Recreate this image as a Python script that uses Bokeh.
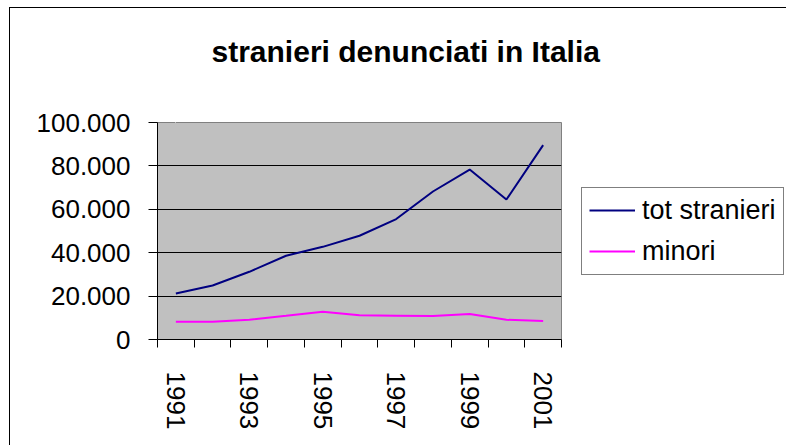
from bokeh.plotting import figure
from bokeh.models import FixedTicker, Legend, LegendItem, Range1d, LinearAxis
from bokeh.embed import file_html
from bokeh.resources import INLINE

# ---- data ----
years = [1991, 1992, 1993, 1994, 1995, 1996, 1997, 1998, 1999, 2000, 2001]
tot_stranieri = [21200, 24900, 31200, 38600, 42700, 47800, 55500, 68200, 78300, 64500, 89600]
minori = [8150, 8150, 9100, 10900, 12800, 11200, 11000, 10800, 11800, 9100, 8500]
y_ticks = [0, 20000, 40000, 60000, 80000, 100000]
y_tick_labels = ["0", "20.000", "40.000", "60.000", "80.000", "100.000"]
x_tick_labels = ["1991", "", "1993", "", "1995", "", "1997", "", "1999", "", "2001"]
series_names = ["tot stranieri", "minori"]
title_text = "stranieri denunciati in Italia"

FONT = "Liberation Sans"

p = figure(frame_width=404, frame_height=217,
           x_range=Range1d(years[0] - 0.5, years[-1] + 0.5),
           y_range=Range1d(y_ticks[0], y_ticks[-1]),
           output_backend="svg", toolbar_location=None,
           min_border_left=147, min_border_right=0,
           min_border_top=114, min_border_bottom=106)
p.styles = {"margin-left": "9px", "margin-top": "7px",
            "border-left": "1px solid black", "border-top": "1px solid black"}

xa = p.below[0]
ya = p.left[0]

p.title.text = title_text
p.title.align = "left"
p.title.offset = 54
p.title.vertical_align = "bottom"
p.title.standoff = 10
p.title.text_font = FONT
p.title.text_font_size = "30px"
p.title.text_font_style = "bold"
p.title.text_color = "black"

# invisible spacer axis between the title and the plot area
spacer = LinearAxis(ticker=FixedTicker(ticks=[years[0]]), major_tick_out=50, major_tick_in=0,
                    minor_tick_out=0, minor_tick_in=0, major_label_standoff=0,
                    major_label_overrides={years[0]: ""},
                    major_label_text_font_size="1px",
                    axis_line_color=None, major_tick_line_color="white",
                    minor_tick_line_color=None)
p.add_layout(spacer, "above")

p.background_fill_color = "#C0C0C0"
p.border_fill_color = "white"
p.outline_line_color = "#808080"
p.outline_line_width = 1

# x axis
xa.ticker = FixedTicker(ticks=years, minor_ticks=[y - 0.5 for y in years] + [years[-1] + 0.5])
xa.major_label_overrides = {y: lab for y, lab in zip(years, x_tick_labels)}
xa.major_tick_out = 0
xa.major_tick_in = 0
xa.minor_tick_out = 8
xa.minor_tick_in = 0
xa.minor_tick_line_color = "black"
xa.axis_line_color = "black"
xa.major_label_orientation = "vertical"
xa.major_label_standoff = 24
xa.major_label_text_font = FONT
xa.major_label_text_font_size = "26px"
xa.major_label_text_color = "black"

# y axis
ya.ticker = FixedTicker(ticks=y_ticks)
ya.major_label_overrides = {t: lab for t, lab in zip(y_ticks, y_tick_labels)}
ya.major_tick_out = 9
ya.major_tick_in = 0
ya.minor_tick_out = 0
ya.minor_tick_in = 0
ya.major_tick_line_color = "black"
ya.axis_line_color = "black"
ya.major_label_standoff = 18
ya.major_label_text_font = FONT
ya.major_label_text_font_size = "26px"
ya.major_label_text_color = "black"

p.xgrid.visible = False
p.ygrid.ticker = FixedTicker(ticks=y_ticks[1:-1])
p.ygrid.grid_line_color = "black"
p.ygrid.grid_line_width = 1

r1 = p.line(years, tot_stranieri, line_color="#000080", line_width=2)
r2 = p.line(years, minori, line_color="#FF00FF", line_width=2)

legend = Legend(items=[LegendItem(label=series_names[0], renderers=[r1]),
                       LegendItem(label=series_names[1], renderers=[r2])],
                location="left",
                label_text_font=FONT, label_text_font_size="27px",
                label_text_color="black",
                glyph_width=46, glyph_height=30, label_height=30,
                spacing=10, padding=7, margin=20, label_standoff=7,
                border_line_color="black", border_line_width=1,
                background_fill_color="white", background_fill_alpha=1)
p.add_layout(legend, "right")

open("out.html", "w").write(file_html(p, INLINE))
